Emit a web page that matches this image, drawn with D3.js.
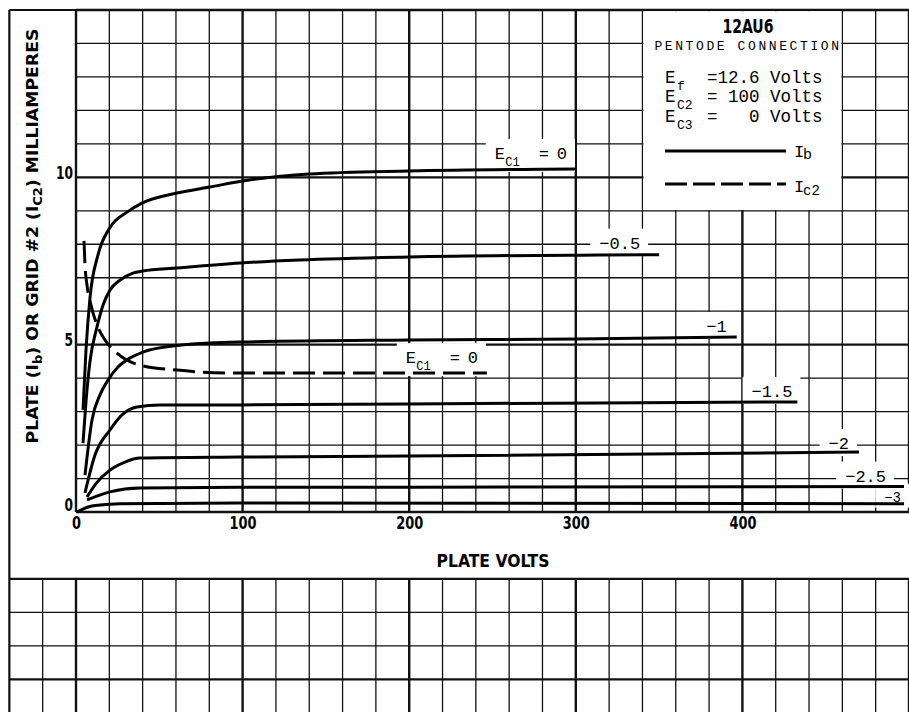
<!DOCTYPE html>
<html>
<head>
<meta charset="utf-8">
<script src="https://cdn.jsdelivr.net/npm/d3@7"></script>
<style>
  body { margin: 0; background: #fff; }
  svg { display: block; }
  .grid line { stroke: #111; }
  .curve { fill: none; stroke: #000; stroke-width: 3; stroke-linejoin: round; stroke-linecap: butt; }
  .bold { font-family: "Liberation Sans Narrow", "DejaVu Sans Condensed", "Arial Narrow", "DejaVu Sans", sans-serif; font-stretch: condensed; font-weight: bold; fill: #000; }
  .mono { font-family: "Liberation Mono", "DejaVu Sans Mono", monospace; fill: #000; }
  .tick text { font-family: "Liberation Sans Narrow", "DejaVu Sans Condensed", "Arial Narrow", "DejaVu Sans", sans-serif; font-stretch: condensed; font-weight: bold; font-size: 17px; fill: #000; }
</style>
</head>
<body>
<script>
// tick labels
const voltTicks = [0, 100, 200, 300, 400];
const maTicks = [0, 5, 10];

// plate current Ib (mA) vs plate volts, one array per grid-1 bias
const ib0   = [[4.2,3.05],[6,4.84],[8.4,6.4],[13.2,7.68],[20.4,8.5],[30.6,8.96],[39.6,9.23],[60.6,9.53],[80.4,9.71],[100,9.89],[140,10.1],[200,10.19],[300,10.25]];
const ib05  = [[4.2,2.06],[6,3.3],[8.4,4.5],[12.6,5.53],[16.2,6.18],[20.4,6.63],[26.4,6.93],[34.2,7.14],[40,7.2],[60.6,7.29],[98.4,7.44],[134,7.53],[200,7.62],[314,7.68],[350,7.69]];
const ib1   = [[5.4,1.1],[9.6,2.75],[14.4,3.5],[19.2,3.94],[25.2,4.33],[32.4,4.6],[40.2,4.78],[58.2,4.96],[80.4,5.05],[98.4,5.08],[200,5.14],[300,5.17],[396.6,5.23]];
const ib15  = [[5.4,0.57],[11.4,1.7],[20.4,2.45],[27.6,2.9],[36.6,3.14],[50.4,3.2],[98.4,3.2],[200,3.23],[433,3.29]];
const ib2   = [[6.6,0.45],[12,0.85],[20.4,1.25],[29.4,1.49],[38.4,1.61],[98.4,1.64],[200,1.67],[470,1.79]];
const ib25  = [[6.6,0.36],[20.4,0.6],[38.4,0.72],[98.4,0.74],[200,0.74],[497,0.76]];
const ib3   = [[0.6,0],[7.2,0.15],[14.4,0.21],[26.4,0.25],[98.4,0.27],[497,0.25]];
// screen grid current Ic2 at Ec1 = 0
const ic2   = [[4.8,8.1],[5.4,7.38],[6.6,6.78],[9,6.18],[12.6,5.59],[17.4,5.14],[24.6,4.75],[38.4,4.39],[60.6,4.24],[94.2,4.15],[246.6,4.15]];

const ibCurves = [ib0, ib05, ib1, ib15, ib2, ib25, ib3];
const ibLabels = ["0", "\u22120.5", "\u22121", "\u22121.5", "\u22122", "\u22122.5", "\u22123"];

// label offsets from curve end (px) - layout only
const labelOffsets = [[-81,-10],[-19,-6],[-10,-5],[-5,-5],[-10,-3],[-18,-5],[-3,-2]];

const W = 909, H = 712;

let x = d3.scaleLinear().domain([0, 500]).range([76, 909]);
let y = d3.scaleLinear().domain([0, 15]).range([512, 10]);

let svg = d3.select("body").append("svg")
  .attr("width", W)
  .attr("height", H);

svg.append("rect").attr("width", W).attr("height", H).attr("fill", "#fff");

function lineW(v, step) { return v % step === 0 ? 2.4 : 1.3; }

// upper grid
let grid = svg.append("g").attr("class", "grid");
grid.selectAll(".gv").data(d3.range(0, 501, 20)).enter().append("line")
  .attr("x1", d => x(d)).attr("x2", d => x(d))
  .attr("y1", y(0)).attr("y2", y(15))
  .attr("stroke-width", d => lineW(d, 100));
grid.selectAll(".gh").data(d3.range(0, 16, 1)).enter().append("line")
  .attr("x1", x(0)).attr("x2", x(500))
  .attr("y1", d => y(d)).attr("y2", d => y(d))
  .attr("stroke-width", d => lineW(d, 5));

// lower (blank) grid
let grid2 = svg.append("g").attr("class", "grid");
grid2.selectAll(".gv").data(d3.range(-20, 501, 20)).enter().append("line")
  .attr("x1", d => x(d)).attr("x2", d => x(d))
  .attr("y1", y(-2)).attr("y2", y(-6.5))
  .attr("stroke-width", d => lineW(d, 100));
grid2.selectAll(".gh").data(d3.range(-2, -7, -1)).enter().append("line")
  .attr("x1", x(-40)).attr("x2", x(500))
  .attr("y1", d => y(d)).attr("y2", d => y(d))
  .attr("stroke-width", d => d === -2 || d === -5 ? 2.2 : 1.3);

// frame
grid.append("line").attr("x1", x(-40)).attr("x2", x(-40)).attr("y1", y(15)).attr("y2", H).attr("stroke-width", 2.2);
grid.append("line").attr("x1", x(-40)).attr("x2", x(500)).attr("y1", y(15)).attr("y2", y(15)).attr("stroke-width", 2.2);

// legend box knocks out the grid
svg.append("rect")
  .attr("x", x(340) + 1).attr("y", y(15) + 1.2)
  .attr("width", x(460) - x(340) - 2).attr("height", y(9) - y(15) - 2)
  .attr("fill", "#fff");

let boxes = svg.append("g");

// axes (labels only)
let yAxis = svg.append("g")
  .attr("transform", "translate(" + (x(0) - 3) + ",0)")
  .call(d3.axisLeft(y).tickValues(maTicks).tickSize(0).tickPadding(0));
yAxis.select(".domain").remove();
yAxis.selectAll(".tick text")
  .attr("dy", d => d === 0 ? "-0.1em" : "0.05em")
  .attr("textLength", d => String(d).length * 8.5)
  .attr("lengthAdjust", "spacingAndGlyphs");

let xAxis = svg.append("g")
  .attr("transform", "translate(0," + y(0) + ")")
  .call(d3.axisBottom(x).tickValues(voltTicks).tickSize(0).tickPadding(5));
xAxis.select(".domain").remove();
xAxis.selectAll(".tick text")
  .attr("textLength", d => String(d).length * 9)
  .attr("lengthAdjust", "spacingAndGlyphs");

// curves
let line = d3.line()
  .x(d => x(d[0]))
  .y(d => y(d[1]))
  .curve(d3.curveMonotoneX);

svg.selectAll(".ib").data(ibCurves).enter().append("path")
  .attr("class", "curve")
  .attr("d", line);

svg.append("path")
  .datum(ic2)
  .attr("class", "curve")
  .attr("stroke-dasharray", "22,8")
  .attr("d", line);

// E_C1 = 0 style label
function ecLabel(px, py) {
  let t = svg.append("text").attr("class", "mono").attr("x", px).attr("y", py).attr("font-size", 17);
  t.append("tspan").attr("x", px).text("E");
  t.append("tspan").attr("x", px + 10.5).attr("dy", 7).attr("font-size", 12).text("C1");
  t.append("tspan").attr("x", px + 44).attr("dy", -7).text("=");
  t.append("tspan").attr("x", px + 62).text("0");
  return t;
}

let labelNodes = [];
ibCurves.forEach(function(c, i) {
  let end = c[c.length - 1];
  let px = x(end[0]) + labelOffsets[i][0];
  let py = y(end[1]) + labelOffsets[i][1];
  if (i === 0) {
    labelNodes.push(ecLabel(px, py));
  } else {
    labelNodes.push(svg.append("text")
      .attr("class", "mono")
      .attr("x", px).attr("y", py)
      .attr("text-anchor", "end")
      .attr("font-size", i === 6 ? 14 : 17)
      .text(ibLabels[i]));
  }
});
let icEnd = ic2[ic2.length - 1];
labelNodes.push(ecLabel(x(icEnd[0]) - 81, y(icEnd[1]) - 10));

// white boxes behind the curve labels
labelNodes.forEach(function(t) {
  let b = t.node().getBBox();
  boxes.append("rect")
    .attr("x", b.x - 9).attr("y", b.y - 6)
    .attr("width", b.width + 17).attr("height", b.height + 8)
    .attr("fill", "#fff");
});

// legend
svg.append("text").attr("class", "bold")
  .attr("x", 748).attr("y", 33).attr("text-anchor", "middle")
  .attr("font-size", 19)
  .attr("textLength", 51).attr("lengthAdjust", "spacingAndGlyphs")
  .text("12AU6");
svg.append("text").attr("class", "mono")
  .attr("x", 748).attr("y", 50).attr("text-anchor", "middle")
  .attr("font-size", 13).attr("letter-spacing", 2.6)
  .text("PENTODE CONNECTION");

const legendRows = [["f", "=12.6 Volts", 83], ["C2", "= 100 Volts", 102], ["C3", "=   0 Volts", 122]];
legendRows.forEach(function(r) {
  let t = svg.append("text").attr("class", "mono").attr("y", r[2]).attr("font-size", 17.5)
    .attr("xml:space", "preserve").style("white-space", "pre");
  t.append("tspan").attr("x", 665).text("E");
  t.append("tspan").attr("x", 677).attr("dy", 7).attr("font-size", 13).text(r[0]);
  t.append("tspan").attr("x", 707).attr("dy", -7).text(r[1]);
});

svg.append("line").attr("x1", 665).attr("x2", 786).attr("y1", 151).attr("y2", 151)
  .attr("stroke", "#000").attr("stroke-width", 3);
svg.append("line").attr("x1", 665).attr("x2", 786).attr("y1", 184).attr("y2", 184)
  .attr("stroke", "#000").attr("stroke-width", 3).attr("stroke-dasharray", "22,6");

let ib = svg.append("text").attr("class", "mono").attr("x", 794).attr("y", 157).attr("font-size", 17);
ib.append("tspan").text("I");
ib.append("tspan").attr("x", 803).attr("dy", 2).attr("font-size", 15).text("b");
let icl = svg.append("text").attr("class", "mono").attr("x", 794).attr("y", 192).attr("font-size", 17);
icl.append("tspan").text("I");
icl.append("tspan").attr("x", 803).attr("dy", 3).attr("font-size", 14).text("c2");

// axis titles
let yt = svg.append("text").attr("class", "bold")
  .attr("transform", "translate(38,236) rotate(-90)")
  .attr("text-anchor", "middle")
  .attr("font-size", 16)
  .attr("textLength", 415).attr("lengthAdjust", "spacingAndGlyphs");
yt.append("tspan").text("PLATE (I");
yt.append("tspan").attr("font-size", 12).attr("dy", 4).text("b");
yt.append("tspan").attr("dy", -4).text(") OR GRID #2 (I");
yt.append("tspan").attr("font-size", 12).attr("dy", 4).text("C2");
yt.append("tspan").attr("dy", -4).text(") MILLIAMPERES");

svg.append("text").attr("class", "bold")
  .attr("x", 493).attr("y", 567).attr("text-anchor", "middle")
  .attr("font-size", 17)
  .attr("textLength", 113).attr("lengthAdjust", "spacingAndGlyphs")
  .text("PLATE VOLTS");
</script>
</body>
</html>
